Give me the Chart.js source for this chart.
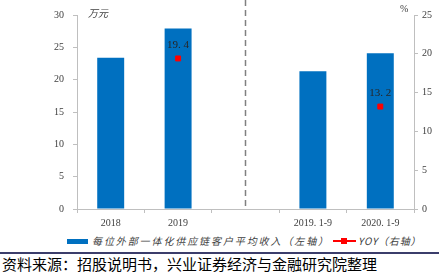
<!DOCTYPE html>
<html>
<head>
<meta charset="utf-8">
<script src="https://cdn.jsdelivr.net/npm/chart.js@4"></script>
<style>
  body { margin: 0; width: 439px; height: 273px; background: #fff; overflow: hidden; font-family: "Noto Sans CJK SC", sans-serif; }
  #wrap { position: relative; width: 439px; height: 232px; }
  .unit { position: absolute; font-size: 10px; color: #404040; font-style: italic; }
  #legend { position: absolute; top: 234px; left: 67px; height: 14px; font-size: 10px; color: #404040; white-space: nowrap; font-style: italic; }
  #legend span { position: absolute; top: 0; line-height: 14px; }
  #rule { position: absolute; left: 0; top: 252px; width: 439px; height: 2px; background: #3b3d6b; }
  #source { position: absolute; left: 2px; top: 255px; font-size: 15px; line-height: 18px; color: #000; white-space: nowrap; }
</style>
</head>
<body>
<div id="wrap">
  <canvas id="chart" width="439" height="232"></canvas>
  <div class="unit" style="left:88px;top:5px;">万元</div>
  <div class="unit" style="left:400px;top:3px;font-style:normal;font-family:'Liberation Serif';">%</div>
</div>
<div id="legend">
  <span style="left:0;top:5px;width:21px;height:5px;background:#0070C0;"></span>
  <span style="left:25px;letter-spacing:1.9px;">每位外部一体化供应链客户平均收入（左轴）</span>
  <span style="left:266px;top:6px;width:23px;height:2px;background:#ff0000;"></span>
  <span style="left:274px;top:4px;width:6px;height:6px;background:#ff0000;"></span>
  <span style="left:291px;letter-spacing:0.8px;">YOY（右轴）</span>
</div>
<div id="rule"></div>
<div id="source">资料来源：招股说明书，兴业证券经济与金融研究院整理</div>
<script>
// 数据
const categorias = ['2018', '2019', '', '2019. 1-9', '2020. 1-9'];
const receitaMedia = [23.4, 27.9, null, 21.3, 24.1];   // 万元
const yoy = [null, 19.4, null, null, 13.2];              // %

const tickFont = { family: 'Liberation Serif', size: 10 };

// linha tracejada no meio + rótulos do YOY
const extras = {
  id: 'extras',
  afterDatasetsDraw(chart) {
    const ctx = chart.ctx;
    const x = chart.scales.x.getPixelForValue(2);
    ctx.save();
    ctx.strokeStyle = '#808080';
    ctx.lineWidth = 1.5;
    ctx.setLineDash([6, 4]);
    ctx.beginPath();
    ctx.moveTo(x, 0);
    ctx.lineTo(x, chart.chartArea.bottom);
    ctx.stroke();
    ctx.setLineDash([]);

    const meta = chart.getDatasetMeta(1);
    ctx.font = '11px "Liberation Serif"';
    ctx.fillStyle = '#262626';
    ctx.textAlign = 'center';
    ctx.textBaseline = 'bottom';
    meta.data.forEach((pt, i) => {
      if (yoy[i] == null) return;
      ctx.fillText(yoy[i].toFixed(1).replace('.', '. '), pt.x, pt.y - 8);
    });
    ctx.restore();
  }
};

new Chart(document.getElementById('chart').getContext('2d'), {
  data: {
    labels: categorias,
    datasets: [{
      type: 'bar',
      label: '每位外部一体化供应链客户平均收入（左轴）',
      data: receitaMedia,
      backgroundColor: '#0070C0',
      yAxisID: 'y',
      categoryPercentage: 1,
      barPercentage: 0.4,
      order: 2
    }, {
      type: 'line',
      label: 'YOY（右轴）',
      data: yoy,
      borderColor: '#ff0000',
      backgroundColor: '#ff0000',
      pointStyle: 'rect',
      pointRadius: 3.5,
      showLine: false,
      yAxisID: 'y1',
      order: 1
    }]
  },
  options: {
    responsive: false,
    animation: false,
    layout: { padding: { top: 10, left: 0, right: 0 } },
    plugins: { legend: { display: false }, tooltip: { enabled: false } },
    scales: {
      x: {
        offset: true,
        grid: { display: true, drawOnChartArea: false, offset: true, tickLength: 4, color: '#bfbfbf' },
        border: { color: '#bfbfbf' },
        ticks: { font: tickFont, color: '#404040', padding: 4, maxRotation: 0 },
        afterFit(s) { s.height = 23; }
      },
      y: {
        position: 'left',
        min: 0, max: 30,
        ticks: { stepSize: 5, font: tickFont, color: '#404040', padding: 9 },
        grid: { drawOnChartArea: false, tickLength: 4, color: '#bfbfbf' },
        border: { color: '#bfbfbf' },
        afterFit(s) { s.width = 77; }
      },
      y1: {
        position: 'right',
        min: 0, max: 25,
        ticks: { stepSize: 5, font: tickFont, color: '#404040', padding: 4 },
        grid: { drawOnChartArea: false, tickLength: 4, color: '#bfbfbf' },
        border: { color: '#bfbfbf' },
        afterFit(s) { s.width = 25; }
      }
    }
  },
  plugins: [extras]
});
</script>
</body>
</html>
